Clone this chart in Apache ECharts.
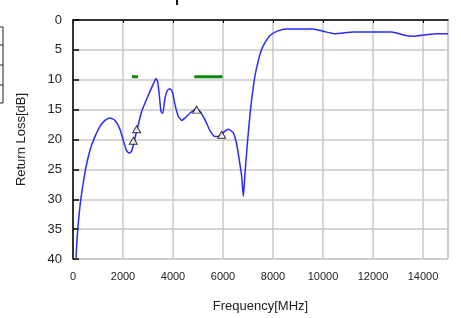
<!DOCTYPE html>
<html>
<head>
<meta charset="utf-8">
<script src="https://cdn.jsdelivr.net/npm/echarts@6/dist/echarts.min.js"></script>
<style>html,body{margin:0;padding:0;background:#fff;}#c{width:461px;height:318px;}</style>
</head>
<body>
<div id="c"></div>
<script>
// Frequency (MHz) and return loss (dB) of the measured curve
var freq = [120,173,280,387,520,680,840,1080,1280,1480,1680,1880,2013,2147,2253,2347,2440,2547,2747,3013,3213,3320,3387,3453,3520,3587,3680,3773,3880,3973,4080,4213,4347,4480,4680,4920,5080,5280,5480,5680,5880,6080,6213,6413,6547,6653,6747,6813,6880,6973,7080,7187,7280,7413,7547,7680,7880,8147,8547,9613,10013,10480,11213,12747,13213,13613,14080,14547,15000];
var rl   = [39.8,36,31.1,27.9,24.6,21.8,19.9,17.8,16.8,16.4,16.8,18.3,20.2,21.9,22.3,21.9,20.5,18.6,15.3,12.6,10.7,9.8,10.4,12.6,15.3,15.6,13.1,11.8,11.5,12.0,14.2,16.1,16.8,16.4,15.6,14.9,15.3,16.7,18.5,19.5,19.4,18.6,18.3,18.9,20.8,23.5,26.2,29.5,25.7,20.8,15.8,12.0,9.3,6.8,4.9,3.8,2.6,1.9,1.5,1.5,1.9,2.3,2.0,2.0,2.5,2.7,2.5,2.3,2.3];
// Marker points (frequency, dB)
var markerFreq = [2413,2547,4947,5947];
var markerRL   = [20.2,18.3,15.0,19.2];
// Band limit segments at the 2:1 VSWR level
var band1Freq = [2360,2600];
var band2Freq = [4850,5980];
var bandLevel = 9.5;
// Axis ticks
var xMin = 0, xMax = 15000, xStep = 2000;
var yMin = 0, yMax = 40, yStep = 5;

var chart = echarts.init(document.getElementById('c'), null, {renderer:'canvas'});
var curve = freq.map(function(f,i){return [f, rl[i]];});
var marks = markerFreq.map(function(f,i){return [f, markerRL[i]];});
var b1 = band1Freq.map(function(f){return [f, bandLevel];});
var b2 = band2Freq.map(function(f){return [f, bandLevel];});
var font = 'Liberation Sans, Arial, sans-serif';

chart.setOption({
  animation:false,
  grid:{left:73,right:13,top:20,bottom:54,show:true,borderColor:'#c8c8c8',borderWidth:1},
  xAxis:{
    type:'value',min:xMin,max:xMax,interval:xStep,
    name:'Frequency[MHz]',nameLocation:'middle',nameGap:41,
    nameTextStyle:{fontFamily:font,fontSize:13,color:'#222'},
    axisLine:{show:true,lineStyle:{color:'#000',width:1.5}},
    axisTick:{show:true,inside:false,length:3,lineStyle:{color:'#000'}},
    axisLabel:{fontFamily:font,fontSize:11,color:'#222',margin:12,showMaxLabel:false,
      formatter:function(v){return String(v);}},
    splitLine:{show:true,lineStyle:{color:'#c8c8c8',width:1.5}}
  },
  yAxis:{
    type:'value',inverse:true,min:yMin,max:yMax,interval:yStep,
    name:'Return Loss[dB]',nameLocation:'middle',nameGap:45,
    nameTextStyle:{fontFamily:font,fontSize:13,color:'#222'},
    axisLine:{show:true,lineStyle:{color:'#000',width:1.5}},
    axisTick:{show:true,inside:true,length:6,lineStyle:{color:'#000',width:1.5}},
    axisLabel:{fontFamily:font,fontSize:13,color:'#222',margin:11},
    splitLine:{show:true,lineStyle:{color:'#c8c8c8',width:1.5}}
  },
  graphic:[
    {type:'rect',shape:{x:-5,y:27,width:8,height:76},style:{fill:'none',stroke:'#222',lineWidth:1}},
    {type:'line',shape:{x1:-5,y1:45,x2:3,y2:45},style:{stroke:'#222',lineWidth:1}},
    {type:'line',shape:{x1:-5,y1:65,x2:3,y2:65},style:{stroke:'#222',lineWidth:1}},
    {type:'line',shape:{x1:-5,y1:85,x2:3,y2:85},style:{stroke:'#222',lineWidth:1}},
    {type:'rect',shape:{x:176,y:0,width:2,height:5},style:{fill:'#111'}}
  ],
  series:[
    {type:'line',data:curve,showSymbol:false,smooth:0.2,lineStyle:{color:'#2a2aff',width:1.5},z:3},
    {type:'line',data:b1,showSymbol:false,lineStyle:{color:'#0a8a0a',width:3},z:2},
    {type:'line',data:b2,showSymbol:false,lineStyle:{color:'#0a8a0a',width:3},z:2},
    {type:'scatter',data:marks,symbol:'triangle',symbolSize:[8,7],itemStyle:{color:'#fff',borderColor:'#000',borderWidth:1},z:4}
  ]
});
</script>
</body>
</html>
